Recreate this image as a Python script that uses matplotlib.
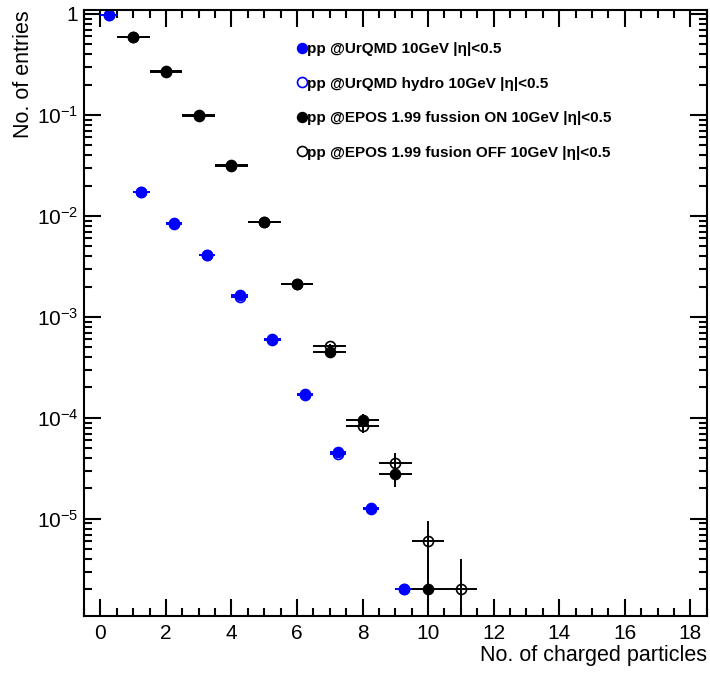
import numpy as np
import matplotlib
matplotlib.use("Agg")
import matplotlib.pyplot as plt
from matplotlib.ticker import MultipleLocator, LogLocator, FixedLocator, FixedFormatter, NullFormatter
from matplotlib.lines import Line2D

plt.rcParams['font.family'] = ['Liberation Sans', 'DejaVu Sans']
plt.rcParams['mathtext.fontset'] = 'custom'
plt.rcParams['mathtext.rm'] = 'Liberation Sans'
plt.rcParams['mathtext.it'] = 'Liberation Sans:italic'
plt.rcParams['mathtext.bf'] = 'Liberation Sans:bold'

# Multiplicity distributions (normalised to number of events)
urqmd_x = [0.25, 1.25, 2.25, 3.25, 4.25, 5.25, 6.25, 7.25, 8.25, 9.25]
urqmd_y = [0.97, 0.0174, 0.0085, 0.0041, 0.00163, 6.0e-4, 1.72e-4, 4.6e-5, 1.28e-5, 2.0e-6]
hydro_y = [0.97, 0.0172, 0.0084, 0.0041, 0.00157, 5.9e-4, 1.70e-4, 4.4e-5, 1.25e-5, 2.0e-6]

epos_on_x = [1, 2, 3, 4, 5, 6, 7, 8, 9, 10]
epos_on_y = [0.587, 0.264, 0.0995, 0.0318, 0.00877, 0.00214, 4.5e-4, 9.6e-5, 2.8e-5, 2.0e-6]
epos_off_x = [1, 2, 3, 4, 5, 6, 7, 8, 9, 10, 11]
epos_off_y = [0.59, 0.27, 0.098, 0.0315, 0.0088, 0.00212, 5.1e-4, 8.4e-5, 3.6e-5, 6.0e-6, 2.0e-6]

labels = [
    "pp @UrQMD 10GeV |η|<0.5",
    "pp @UrQMD hydro 10GeV |η|<0.5",
    "pp @EPOS 1.99 fussion ON 10GeV |η|<0.5",
    "pp @EPOS 1.99 fusion OFF 10GeV |η|<0.5",
]

N_EVENTS_URQMD = 5e7
N_EVENTS_EPOS = 5e5


def stat_err(y, n_events):
    # Poisson error of a normalised bin content; lower edge kept positive for log axis
    y = np.asarray(y)
    err = np.sqrt(y / n_events)
    lower = np.minimum(err, y * 0.99999)
    return np.vstack([lower, err])


fig = plt.figure(figsize=(7.1, 6.75), dpi=100)
ax = fig.add_axes([0.1183, 0.0879, 0.8770, 0.8973])
ax.set_yscale('log')

ms = 7.2
common = dict(linestyle='none', capsize=0, elinewidth=1.4, markersize=ms, markeredgewidth=1.2)

ax.errorbar(urqmd_x, urqmd_y, yerr=stat_err(urqmd_y, N_EVENTS_URQMD), xerr=0.25,
            marker='o', color='#0000ff', mfc='#0000ff', mec='#0000ff', **common)
ax.errorbar(urqmd_x, hydro_y, yerr=stat_err(hydro_y, N_EVENTS_URQMD), xerr=0.25,
            marker='o', color='#0000ff', mfc='none', mec='#0000ff', **common)
ax.errorbar(epos_off_x, epos_off_y, yerr=stat_err(epos_off_y, N_EVENTS_EPOS), xerr=0.5,
            marker='o', color='black', mfc='none', mec='black', **common)
ax.errorbar(epos_on_x, epos_on_y, yerr=stat_err(epos_on_y, N_EVENTS_EPOS), xerr=0.5,
            marker='o', color='black', mfc='black', mec='black', **common)

ax.set_xlim(-0.5, 18.5)
ax.set_ylim(1.1e-6, 1.095)

# Axis ticks: ROOT style, pointing inward on all four sides
ax.xaxis.set_major_locator(MultipleLocator(2))
ax.xaxis.set_minor_locator(MultipleLocator(0.5))
ax.yaxis.set_major_locator(FixedLocator([1e-5, 1e-4, 1e-3, 1e-2, 1e-1, 1]))
ax.yaxis.set_major_formatter(FixedFormatter(
    [r'$10^{-5}$', r'$10^{-4}$', r'$10^{-3}$', r'$10^{-2}$', r'$10^{-1}$', '1']))
ax.yaxis.set_minor_locator(LogLocator(base=10, subs=np.arange(2, 10), numticks=20))
ax.yaxis.set_minor_formatter(NullFormatter())

ax.tick_params(which='both', direction='in', top=True, right=True, width=1.5, labelsize=15)
ax.tick_params(which='major', length=12.5)
ax.tick_params(which='minor', length=6)
ax.tick_params(axis='x', pad=6)
ax.tick_params(axis='y', pad=4)
for sp in ax.spines.values():
    sp.set_linewidth(1.5)

fig.text(24 / 710, 1 - 10 / 675, "No. of entries", rotation=90, ha='center', va='top', fontsize=15.5)
fig.text(707 / 710, 1 - 656 / 675, "No. of charged particles", ha='right', va='center', fontsize=15.5)

handles = [
    Line2D([], [], linestyle='none', marker='o', markersize=ms, color='#0000ff', mfc='#0000ff'),
    Line2D([], [], linestyle='none', marker='o', markersize=ms, color='#0000ff', mfc='none', mew=1.2),
    Line2D([], [], linestyle='none', marker='o', markersize=ms, color='black', mfc='black'),
    Line2D([], [], linestyle='none', marker='o', markersize=ms, color='black', mfc='none', mew=1.2),
]
ax.legend(handles, labels, loc='upper left', bbox_to_anchor=(0.341, 0.9466), frameon=False,
          handlelength=0.7, handletextpad=0.0, labelspacing=1.34, borderpad=0, borderaxespad=0,
          prop={'weight': 'bold', 'size': 11})

fig.savefig("out.png", dpi=100)
